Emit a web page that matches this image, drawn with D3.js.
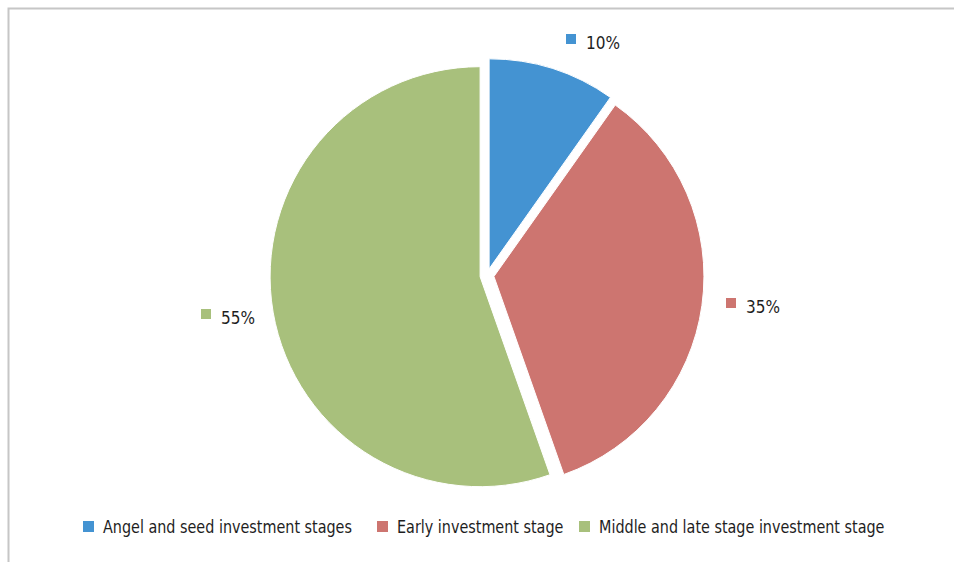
<!DOCTYPE html>
<html>
<head>
<meta charset="utf-8">
<script src="https://cdn.jsdelivr.net/npm/d3@7"></script>
<style>
  body { margin: 0; background: #fff; }
  text { font-family: "Liberation Sans Narrow", "DejaVu Sans Condensed", "Arial Narrow", sans-serif; fill: #1e1e1e; }
</style>
</head>
<body>
<div id="chart"></div>
<script>
const categories = ["Angel and seed investment stages", "Early investment stage", "Middle and late stage investment stage"];
const shares = [9.8, 34.8, 55.4];
const colors = ["#4493d2", "#cd7570", "#a8c07c"];

const width = 954, height = 562;
const cx = 487, cy = 275.5, radius = 210, explode = 7;
const squeeze = 0.94; // condensed look of the original typeface

const svg = d3.select("#chart").append("svg")
  .attr("width", width)
  .attr("height", height);

// chart frame (right/bottom edges fall off the picture)
svg.append("rect")
  .attr("x", 8.5).attr("y", 8.5)
  .attr("width", 980).attr("height", 600)
  .attr("fill", "none")
  .attr("stroke", "#c6c6c6")
  .attr("stroke-width", 2);

const pie = d3.pie().sort(null).value(d => d);
const arcs = pie(shares);
const arc = d3.arc().innerRadius(0).outerRadius(radius);

const g = svg.append("g").attr("transform", `translate(${cx},${cy})`);

g.selectAll("path.slice")
  .data(arcs)
  .enter()
  .append("path")
  .attr("class", "slice")
  .attr("d", arc)
  .attr("fill", (d, i) => colors[i])
  .attr("stroke", "#fff")
  .attr("stroke-width", 1)
  .attr("transform", d => {
    let a = (d.startAngle + d.endAngle) / 2;
    return `translate(${Math.sin(a) * explode},${-Math.cos(a) * explode})`;
  });

// data labels with small colour keys
const labelPos = [[586, 49], [746, 313], [221, 324]];
const labels = svg.selectAll("g.dlabel")
  .data(arcs)
  .enter()
  .append("g")
  .attr("class", "dlabel")
  .attr("transform", (d, i) => `translate(${labelPos[i][0]},${labelPos[i][1]})`);
labels.append("rect")
  .attr("x", -20).attr("y", -15)
  .attr("width", 10).attr("height", 10)
  .attr("fill", (d, i) => colors[i]);
labels.append("text")
  .attr("transform", "scale(1,1)")
  .style("font-size", "17px")
  .text(d => Math.round(d.data) + "%");

// legend
const legendX = [83, 377, 579];
const legend = svg.selectAll("g.legend")
  .data(categories)
  .enter()
  .append("g")
  .attr("class", "legend")
  .attr("transform", (d, i) => `translate(${legendX[i]},521)`);
legend.append("rect")
  .attr("width", 11).attr("height", 11)
  .attr("fill", (d, i) => colors[i]);
legend.append("text")
  .attr("transform", `translate(20,12) scale(${squeeze},1)`)
  .style("font-size", "17px")
  .text(d => d);
</script>
</body>
</html>
